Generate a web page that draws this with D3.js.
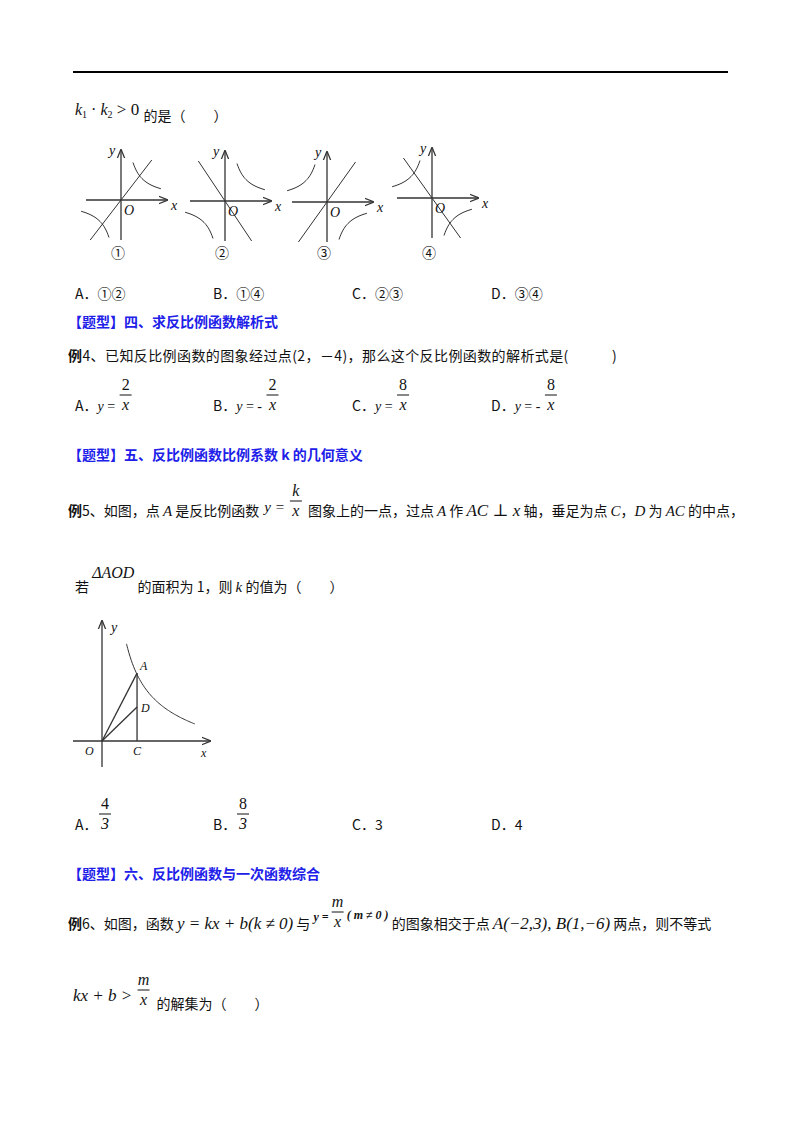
<!DOCTYPE html>
<html><head><meta charset="utf-8">
<script src="https://cdn.jsdelivr.net/npm/d3@7"></script>
<style>body{margin:0;background:#fff}svg text{font-family:"Noto Sans CJK SC",sans-serif;fill:#111;white-space:pre}</style>
</head><body><svg id="s" width="800" height="1132"></svg>
<script>
// ---- data ----
const graphCenters = [[118,200],[222,201],[324,202],[429,198]];
const graphLabels = ["①","②","③","④"];
const lineSlopes = [1.3, -1.5, 1.4, -1.4];
const hyperK = [1, 1, -1, -1];
const optionsQ3 = ["A．①②","B．①④","C．②③","D．③④"];
const optLetters = ["A．","B．","C．","D．"];
const optX = [75,213,352,491];
const q4Num = ["2","2","8","8"];
const q4Sign = ["","- ","","- "];
const q5Num = ["4","8"];
const headings = [["【题型】四、求反比例函数解析式",327],["【题型】五、反比例函数比例系数 k 的几何意义",460],["【题型】六、反比例函数与一次函数综合",879]];
const q5A = [1.46, 2.83];

const svg = d3.select("#s");
const serif = '"Liberation Serif","DejaVu Serif",serif';
function t(x,y,s,o={}){const e=svg.append("text").attr("x",x).attr("y",y).attr("xml:space","preserve").text(s).attr("font-size",o.size||14);
 if(o.it)e.attr("font-style","italic");if(o.serif)e.style("font-family",serif);if(o.bold)e.attr("font-weight","bold");if(o.fill)e.style("fill",o.fill);if(o.anchor)e.attr("text-anchor",o.anchor);if(o.ls)e.attr("letter-spacing",o.ls);return e;}
function frac(x,yBar,num,den,o={}){t(x,yBar-5,num,{serif:1,it:o.it,anchor:"middle",size:o.size||16});
 svg.append("line").attr("x1",x-6).attr("x2",x+6).attr("y1",yBar).attr("y2",yBar).attr("stroke","#111");
 t(x,yBar+15,den,{serif:1,it:1,anchor:"middle",size:o.size||16});}
function flow(x,y,segs,ls){let cx=x;segs.forEach(s=>{
 if(s.gap!==undefined){cx+=s.gap;return;}
 if(s.frac){frac(cx+7,s.frac[2],s.frac[0],s.frac[1],s.frac[3]||{});cx+=16;return;}
 const o=Object.assign({},s[1]||{});if(ls&&!o.serif)o.ls=ls;
 const e=t(cx,o.dy?y+o.dy:y,s[0],o);cx+=e.node().getComputedTextLength()+(o.ls?0:0);});return cx;}
svg.append("defs").append("marker").attr("id","ar").attr("viewBox","0 0 10 10").attr("refX",9).attr("refY",5)
 .attr("markerWidth",7).attr("markerHeight",7).attr("orient","auto").append("path").attr("d","M0,1L10,5L0,9").attr("fill","none").attr("stroke","#333").attr("stroke-width",1.4);

svg.append("line").attr("x1",73).attr("x2",728).attr("y1",72).attr("y2",72).attr("stroke","#000").attr("stroke-width",2);
const M={serif:1,it:1,size:16};
flow(75,115,[["k",M],["1",{serif:1,size:10,dy:3}],[" · ",{serif:1,size:16}],["k",M],["2",{serif:1,size:10,dy:3}],[" > 0 ",{serif:1,size:17}],["的是（　　）",{dy:6}]]);

graphCenters.forEach(([cx,cy],i)=>{
 const xs=d3.scaleLinear().domain([-4,4]).range([cx-37,cx+43]);
 const ys=d3.scaleLinear().domain([-4,5]).range([cy+40,cy-50]);
 const g=svg.append("g").attr("stroke","#333").attr("fill","none").attr("stroke-width",1.3);
 g.append("line").attr("x1",xs(-3.5)).attr("x2",xs(4.6)).attr("y1",ys(0)).attr("y2",ys(0)).attr("marker-end","url(#ar)");
 g.append("line").attr("x1",xs(0)).attr("x2",xs(0)).attr("y1",ys(-4)).attr("y2",ys(5)).attr("marker-end","url(#ar)");
 const m=lineSlopes[i];const x0=Math.min(3.3,4/Math.abs(m));
 g.append("line").attr("x1",xs(-x0)).attr("y1",ys(-m*x0)).attr("x2",xs(x0)).attr("y2",ys(m*x0)).attr("stroke-width",1);
 const k=hyperK[i]*4.5, pts=d3.range(1.2,4.01,0.1);
 const L=d3.line().x(d=>xs(d[0])).y(d=>ys(d[1])).curve(d3.curveBasis);
 g.append("path").attr("d",L(pts.map(x=>[x,k/x]))).attr("stroke-width",1);
 g.append("path").attr("d",L(pts.map(x=>[-x,-k/x]))).attr("stroke-width",1);
 t(xs(0)-12,cy-45,"y",{serif:1,it:1,size:14});t(xs(0)+3,cy+15,"O",{serif:1,it:1,size:14});
 t(xs(4.6)+4,cy+10,"x",{serif:1,it:1,size:14});
 t(cx,258,graphLabels[i],{anchor:"middle",size:14});
});
optionsQ3.forEach((s,i)=>t(optX[i],299,s));

headings.forEach(([s,y])=>t(68,y,s,{bold:1,fill:"#2020e8",size:14}));

flow(68,361,[["例",{bold:1}],["4、已知反比例函数的图象经过点(2，－4)，那么这个反比例函数的解析式是(　　　)"]],0.4);
optX.forEach((x,i)=>{flow(x,411,[[optLetters[i]],["y",{serif:1,it:1}],[" = "+q4Sign[i],{serif:1}],{frac:[q4Num[i],"x",395]}]);});

flow(68,516,[["例",{bold:1}],["5、如图，点 "],["A",{serif:1,it:1,size:15}],[" 是反比例函数 "],{gap:2},["y =",{serif:1,it:1,size:15,dy:-4}],{gap:4},{frac:["k","x",501,{it:1}]},{gap:3},
 ["图象上的一点，过点 "],["A",{serif:1,it:1,size:15}],[" 作 "],["AC ⊥ x",{serif:1,it:1,size:17}],[" 轴，垂足为点 "],["C",{serif:1,it:1,size:15}],["，"],["D",{serif:1,it:1,size:15}],[" 为 "],["AC",{serif:1,it:1,size:15}],[" 的中点，"]]);
flow(75,592,[["若 "],["ΔAOD",{serif:1,it:1,size:16,dy:-14}],[" 的面积为 1，则 "],["k",{serif:1,it:1,size:15}],[" 的值为（　　）"]]);

{const xs=d3.scaleLinear().domain([0,4]).range([102,198]);const ys=d3.scaleLinear().domain([0,4]).range([741,645]);
 const g=svg.append("g").attr("stroke","#333").attr("fill","none").attr("stroke-width",1.3);
 g.append("line").attr("x1",73).attr("x2",xs(4.5)).attr("y1",ys(0)).attr("y2",ys(0)).attr("marker-end","url(#ar)");
 g.append("line").attr("x1",xs(0)).attr("x2",xs(0)).attr("y1",767).attr("y2",ys(5)).attr("marker-end","url(#ar)");
 const [ax,ay]=q5A; const kk=ax*ay;
 g.append("path").attr("d",d3.line().x(d=>xs(d)).y(d=>ys(kk/d)+(d-1)*3).curve(d3.curveBasis)(d3.range(1.02,3.91,0.05))).attr("stroke-width",1);
 g.append("line").attr("x1",xs(0)).attr("y1",ys(0)).attr("x2",xs(ax)).attr("y2",ys(ay));
 g.append("line").attr("x1",xs(ax)).attr("y1",ys(0)).attr("x2",xs(ax)).attr("y2",ys(ay));
 g.append("line").attr("x1",xs(0)).attr("y1",ys(0)).attr("x2",xs(ax)).attr("y2",ys(ay/2));
 t(111,632,"y",{serif:1,it:1});t(xs(ax)+3,ys(ay)-3,"A",{serif:1,it:1,size:12});t(xs(ax)+4,ys(ay/2)+5,"D",{serif:1,it:1,size:12});
 t(85,755,"O",{serif:1,it:1,size:12});t(xs(ax)-4,755,"C",{serif:1,it:1,size:12});t(201,757,"x",{serif:1,it:1,size:12});}
t(75,830,"A．");frac(105,814,q5Num[0],"3");t(213,830,"B．");frac(243,814,q5Num[1],"3");
t(352,830,"C．3");t(491,830,"D．4");

flow(68,929,[["例",{bold:1}],["6、如图，函数 "],["y = kx + b(k ≠ 0)",{serif:1,it:1,size:17}],[" 与 "],["y =",{serif:1,it:1,bold:1,size:12,dy:-8}],{gap:2},{frac:["m","x",912,{it:1}]},
 ["( m ≠ 0 )",{serif:1,it:1,bold:1,size:12,dy:-10}],[" 的图象相交于点 "],["A(−2,3), B(1,−6)",{serif:1,it:1,size:17}],[" 两点，则不等式"]]);
flow(73,1001,[["kx + b > ",{serif:1,it:1,size:17}],{frac:["m","x",990,{it:1}]},{gap:4},["的解集为（　　）",{dy:8}]]);
</script></body></html>
